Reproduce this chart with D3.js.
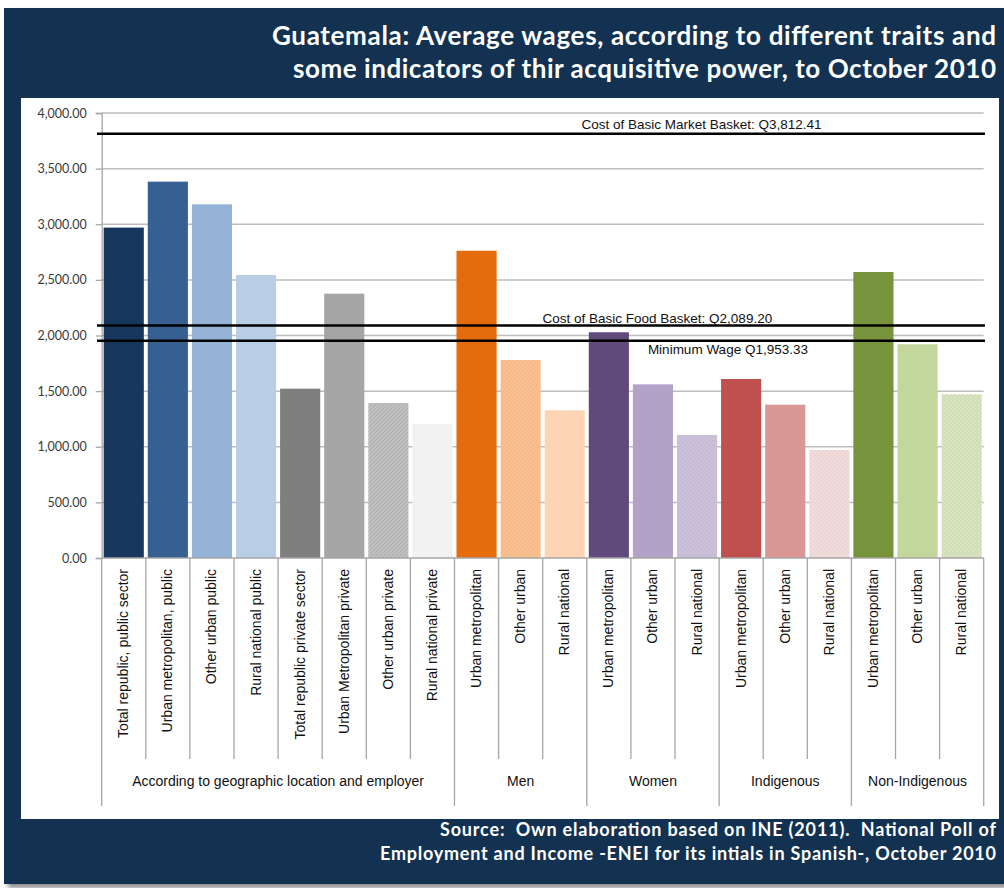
<!DOCTYPE html>
<html>
<head>
<meta charset="utf-8">
<script src="https://cdn.jsdelivr.net/npm/d3@7"></script>
<style>
  html, body { margin: 0; padding: 0; background: #ffffff; }
  svg { display: block; }
  text { white-space: pre; }
</style>
</head>
<body>
<svg id="chart" width="1004" height="888"></svg>
<script>
// ---- data ----
const categories = [
  "Total republic, public sector", "Urban metropolitan, public", "Other urban public", "Rural national public",
  "Total republic private sector", "Urban Metropolitan private", "Other urban private", "Rural national private",
  "Urban metropolitan", "Other urban", "Rural national",
  "Urban metropolitan", "Other urban", "Rural national",
  "Urban metropolitan", "Other urban", "Rural national",
  "Urban metropolitan", "Other urban", "Rural national"
];
const groups = ["According to geographic location and employer", "Men", "Women", "Indigenous", "Non-Indigenous"];
const groupSizes = [8, 3, 3, 3, 3];
const wages = [
  2970, 3383, 3179, 2544, 1522, 2376, 1393, 1207,
  2762, 1780, 1328,
  2029, 1561, 1106,
  1609, 1378, 971,
  2571, 1921, 1471
];
const refNames = ["Cost of Basic Market Basket: Q3,812.41", "Cost of Basic Food Basket: Q2,089.20", "Minimum Wage Q1,953.33"];
const refValues = [3812.41, 2089.20, 1953.33];
const yTicks = [0, 500, 1000, 1500, 2000, 2500, 3000, 3500, 4000];
const titleLines = [
  "Guatemala: Average wages, according to different traits and",
  "some indicators of thir acquisitive power, to October 2010"
];
const sourceLines = [
  "Source:  Own elaboration based on INE (2011).  National Poll of",
  "Employment and Income -ENEI for its intials in Spanish-, October 2010"
];

// ---- styles ----
const barColors = [
  "#17375e", "#366092", "#95b3d7", "#b9cde5", "#7f7f7f", "#a5a5a5", "#bfbfbf", "#f2f2f2",
  "#e46c0a", "#fac090", "#fdd5b4",
  "#604a7b", "#b3a2c7", "#ccc1da",
  "#c0504d", "#d99694", "#f2dcdb",
  "#77933c", "#c3d69b", "#d7e4bd"
];
// bars drawn with a fine texture over their base colour
const texture = { 6: "hatch", 9: "dots", 13: "dots", 16: "dots", 19: "dots" };
const navy = "#133150";
const labelFont = "'Liberation Sans Narrow', 'Liberation Sans', sans-serif";
const titleFont = "Lato, 'Open Sans', sans-serif";
const titleWidths = [724, 703];
const sourceWidths = [556, 616];

const svg = d3.select("#chart");
const defs = svg.append("defs");

// drop shadow + background panels
const sh = defs.append("filter").attr("id", "shadow").attr("x", "-5%").attr("y", "-5%").attr("width", "110%").attr("height", "110%");
sh.append("feGaussianBlur").attr("stdDeviation", 2.5);
svg.append("rect").attr("x", 8).attr("y", 12).attr("width", 1000).attr("height", 876)
  .attr("fill", "#8a8a8a").attr("filter", "url(#shadow)");
svg.append("rect").attr("x", 4).attr("y", 8).attr("width", 1000).attr("height", 876).attr("fill", navy);
svg.append("rect").attr("x", 21).attr("y", 98).attr("width", 978).attr("height", 721).attr("fill", "#ffffff");

// title
svg.append("g").selectAll("text").data(titleLines).join("text")
  .attr("x", 996).attr("y", (d, i) => 45 + i * 33)
  .attr("text-anchor", "end")
  .attr("font-family", titleFont).attr("font-weight", 700).attr("font-size", 26)
  .attr("textLength", (d, i) => titleWidths[i]).attr("lengthAdjust", "spacing")
  .attr("fill", "#ffffff").text(d => d);

// source
svg.append("g").selectAll("text").data(sourceLines).join("text")
  .attr("x", 996).attr("y", (d, i) => 836 + i * 24)
  .attr("text-anchor", "end")
  .attr("font-family", titleFont).attr("font-weight", 700).attr("font-size", 18)
  .attr("textLength", (d, i) => sourceWidths[i]).attr("lengthAdjust", "spacing")
  .attr("fill", "#ffffff").text(d => d);

// ---- scales ----
const plotLeft = 101.7, plotRight = 983.7, plotTop = 113, plotBottom = 558;
const x = d3.scaleBand().domain(d3.range(categories.length))
  .range([plotLeft, plotRight]).paddingInner(0.09).paddingOuter(0.045);
const y = d3.scaleLinear().domain([0, 4000]).range([plotBottom, plotTop]);
const step = x.step();
const edge = i => plotLeft + i * step;

// textures
Object.entries(texture).forEach(([i, kind]) => {
  const c = barColors[i];
  const p = defs.append("pattern").attr("id", "tex" + i).attr("patternUnits", "userSpaceOnUse")
    .attr("width", 4).attr("height", 4);
  p.append("rect").attr("width", 4).attr("height", 4).attr("fill", c);
  const dark = d3.color(c).darker(0.35);
  if (kind === "hatch") {
    p.append("path").attr("d", "M0,4 L4,0 M-1,1 L1,-1 M3,5 L5,3").attr("stroke", dark).attr("stroke-width", 0.8);
  } else {
    p.append("circle").attr("cx", 1).attr("cy", 1).attr("r", 0.6).attr("fill", dark);
    p.append("circle").attr("cx", 3).attr("cy", 3).attr("r", 0.6).attr("fill", dark);
  }
});

// gridlines
svg.append("g").selectAll("line").data(yTicks.filter(t => t > 0)).join("line")
  .attr("x1", plotLeft).attr("x2", plotRight)
  .attr("y1", d => y(d)).attr("y2", d => y(d))
  .attr("stroke", "#bdbdbd").attr("stroke-width", 1.5);

// y axis
const yAxis = d3.axisLeft(y).tickValues(yTicks).tickFormat(d3.format(",.2f")).tickSize(6).tickPadding(9);
const ya = svg.append("g").attr("transform", `translate(${plotLeft},0)`).call(yAxis);
ya.select(".domain").attr("stroke", "#a6a6a6").attr("stroke-width", 1.3);
ya.selectAll(".tick line").attr("stroke", "#a6a6a6").attr("stroke-width", 1.3);
ya.selectAll(".tick text").attr("font-family", "Lato, sans-serif").attr("font-size", 12.5).attr("fill", "#3a3a3a");

// bars
svg.append("g").selectAll("rect").data(wages).join("rect")
  .attr("x", (d, i) => x(i)).attr("width", x.bandwidth())
  .attr("y", d => y(d)).attr("height", d => y(0) - y(d))
  .attr("fill", (d, i) => texture[i] ? `url(#tex${i})` : barColors[i]);

// category axis: baseline, category separators, group separators
svg.append("line").attr("x1", plotLeft).attr("x2", plotRight)
  .attr("y1", y(0)).attr("y2", y(0)).attr("stroke", "#a6a6a6").attr("stroke-width", 1.3);
const groupEdges = [0];
groupSizes.forEach(n => groupEdges.push(groupEdges[groupEdges.length - 1] + n));
svg.append("g").selectAll("line").data(d3.range(categories.length + 1)).join("line")
  .attr("x1", edge).attr("x2", edge)
  .attr("y1", y(0))
  .attr("y2", i => groupEdges.includes(i) ? 806 : 759)
  .attr("stroke", "#a6a6a6").attr("stroke-width", 1.3);

// category labels (rotated)
svg.append("g").selectAll("text").data(categories).join("text")
  .attr("transform", (d, i) => `translate(${x(i) + x.bandwidth() / 2 + 4.5},569) rotate(-90)`)
  .attr("text-anchor", "end")
  .attr("font-family", labelFont).attr("font-size", 14).attr("fill", "#111")
  .text(d => d);

// group labels
svg.append("g").selectAll("text").data(groups).join("text")
  .attr("x", (d, i) => (edge(groupEdges[i]) + edge(groupEdges[i + 1])) / 2)
  .attr("y", 786)
  .attr("text-anchor", "middle")
  .attr("font-family", labelFont).attr("font-size", 14).attr("fill", "#111")
  .text(d => d);

// reference lines with labels on white boxes
const refAnchor = [13.6, 12.6, 14.2];   // label centre, in category steps
const refLift = [5, 3, -13];            // label baseline offset above the line
const refG = svg.append("g");
refValues.forEach((v, i) => {
  const g = refG.append("g");
  const t = g.append("text")
    .attr("x", plotLeft + refAnchor[i] * step)
    .attr("y", y(v) - refLift[i])
    .attr("text-anchor", "middle")
    .attr("font-family", labelFont).attr("font-size", 13.5).attr("fill", "#111")
    .text(refNames[i]);
  const b = t.node().getBBox();
  const padX = i === 0 ? 30 : 10;
  g.insert("rect", "text")
    .attr("x", b.x - padX).attr("y", b.y)
    .attr("width", b.width + padX * 2).attr("height", b.height)
    .attr("fill", "#ffffff");
});
svg.append("g").selectAll("line").data(refValues).join("line")
  .attr("x1", 97).attr("x2", 985)
  .attr("y1", d => y(d)).attr("y2", d => y(d))
  .attr("stroke", "#000").attr("stroke-width", 2.5);
</script>
</body>
</html>
